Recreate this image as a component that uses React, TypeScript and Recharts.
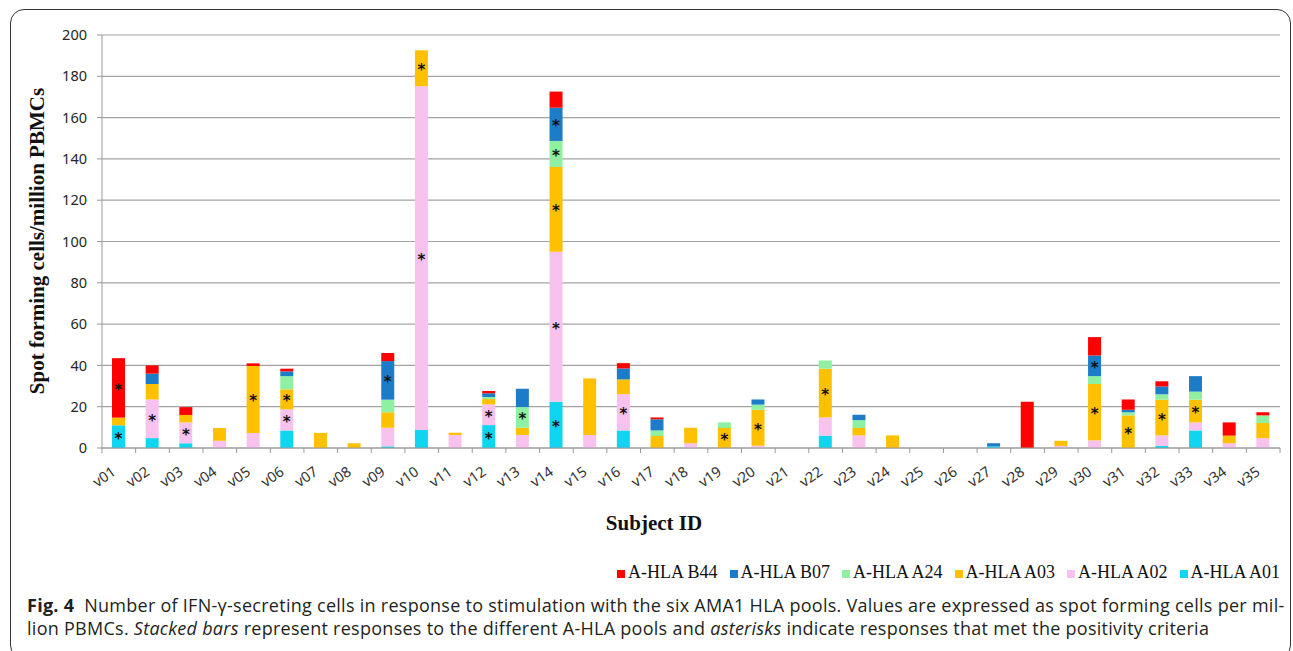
import React from "react";
import { BarChart, Bar, XAxis, YAxis, CartesianGrid, LabelList } from "recharts";

const subjects = [
  "v01","v02","v03","v04","v05","v06","v07","v08","v09","v10",
  "v11","v12","v13","v14","v15","v16","v17","v18","v19","v20",
  "v21","v22","v23","v24","v25","v26","v27","v28","v29","v30",
  "v31","v32","v33","v34","v35",
];

// stacked bottom -> top
const a01 = [11,4.8,2.3,0,0,8.5,0,0,0.8,8.7, 0,11.1,0,22.4,0,8.5,0,0,0,0, 0,6,0,0,0,0,0.8,0,0,0, 0,1,8.5,0,0];
const a02 = [0,18.7,10.1,3.5,7.3,10.2,0,0,9,166.5, 6.3,10,6.3,72.6,6.3,17.6,0,2.3,0,1.1, 0,8.8,6.1,0,0,0,0,0,1,3.7, 0,5.1,3.9,2.3,4.8];
const a03 = [3.7,7.5,3.6,6.2,32.4,9.7,7.3,2.3,7.5,17.4, 1.1,2.6,3.5,41.1,27.4,7.1,5.8,7.5,9.7,17.4, 0,23.6,3.6,6.1,0,0,0,0,2.5,27.3, 15.8,17.3,11,3.7,7.3];
const a24 = [0,0,0,0,0,6.4,0,0,6.1,0, 0,1,10,12.6,0,0,2.7,0,2.7,2.5, 0,4,3.8,0,0,0,0,0,0,3.8, 1.5,2.6,3.9,0,3.7];
const b07 = [0,5,0,0,0,2.3,0,0,18.7,0, 0,1.8,8.9,16.1,0,5.3,5.4,0,0,2.5, 0,0,2.6,0,0,0,1.5,0,0,10, 1.2,3.8,7.5,0,0];
const b44 = [28.8,4,3.8,0,1.3,1.3,0,0,3.9,0, 0,1.1,0,7.8,0,2.6,0.9,0,0,0, 0,0,0,0,0,0,0,22.4,0,8.9, 5,2.5,0,6.4,1.5];

// responses meeting positivity criteria (asterisks)
const sigA01 = ["v01","v12","v14"];
const sigA02 = ["v02","v03","v06","v10","v12","v14","v16"];
const sigA03 = ["v05","v06","v10","v14","v19","v20","v22","v30","v31","v32","v33"];
const sigA24 = ["v13","v14"];
const sigB07 = ["v09","v14","v30"];
const sigB44 = ["v01"];

const yTicks = [0,20,40,60,80,100,120,140,160,180,200];

const series = [
  { key: "a01", name: "A-HLA A01", values: a01, sig: sigA01, color: "#10D5F0" },
  { key: "a02", name: "A-HLA A02", values: a02, sig: sigA02, color: "#F7C3EE" },
  { key: "a03", name: "A-HLA A03", values: a03, sig: sigA03, color: "#FFC000" },
  { key: "a24", name: "A-HLA A24", values: a24, sig: sigA24, color: "#8FF0A2" },
  { key: "b07", name: "A-HLA B07", values: b07, sig: sigB07, color: "#1C7CC8" },
  { key: "b44", name: "A-HLA B44", values: b44, sig: sigB44, color: "#FF0000" },
];

const data = subjects.map((s, i) => {
  const row: any = { id: s };
  series.forEach(se => {
    row[se.key] = se.values[i];
    row[se.key + "_sig"] = se.sig.includes(s) ? "*" : "";
  });
  return row;
});

const W = 1293;
const PLOT_L = 102;
const PLOT_R = 1280;
const STEP = (PLOT_R - PLOT_L) / subjects.length;
const tickFont = "'Noto Sans', sans-serif";
const serif = "'Liberation Serif', 'Times New Roman', serif";

const XTick = (p: any) => {
  const { x, y, payload, index } = p;
  const tx = x - 2, ty = y + 26;
  return (
    <g>
      <line x1={x - STEP / 2} x2={x - STEP / 2} y1={y} y2={y + 5} stroke="#999" />
      {index === subjects.length - 1 && (
        <line x1={x + STEP / 2} x2={x + STEP / 2} y1={y} y2={y + 5} stroke="#999" />
      )}
      <text x={tx} y={ty} textAnchor="end" transform={`rotate(-35 ${tx} ${ty})`}
        fontFamily={tickFont} fontSize={14.5} fill="#333">{payload.value}</text>
    </g>
  );
};

const Star = (p: any) => {
  if (!p.value) return null;
  const vb = p.viewBox || p;
  return (
    <text x={vb.x + vb.width / 2} y={vb.y + vb.height / 2 + 7} textAnchor="middle"
      fontFamily="'DejaVu Sans', sans-serif" fontSize={15} fontWeight="bold" fill="#111">*</text>
  );
};

export default function App() {
  return (
    <div style={{ position: "absolute", left: 0, top: 0, width: W, height: 651, background: "#fff", overflow: "hidden" }}>
      <div style={{ position: "absolute", left: 10, top: 9, width: 1281, height: 650, border: "1.3px solid #333", borderRadius: 14, boxSizing: "border-box" }} />
      <div style={{ position: "absolute", left: 0, top: 0 }}>
        <BarChart width={W} height={540} data={data} margin={{ top: 35, right: W - PLOT_R, left: 10, bottom: 0 }} barSize={13}>
          <CartesianGrid vertical={false} stroke="#a3a3a3" strokeWidth={1.2} />
          <XAxis dataKey="id" height={92} tickLine={false} tickSize={0} tickMargin={0} interval={0}
            axisLine={{ stroke: "#999" }} tick={<XTick />} />
          <YAxis width={92} domain={[0, 200]} ticks={yTicks} interval={0} tickSize={5} tickMargin={10}
            axisLine={{ stroke: "#999" }} tickLine={{ stroke: "#999" }}
            tick={{ fontFamily: tickFont, fontSize: 14.5, fill: "#262626" }} />
          {series.map(se => (
            <Bar key={se.key} dataKey={se.key} name={se.name} stackId="s" fill={se.color} isAnimationActive={false}>
              <LabelList dataKey={se.key + "_sig"} content={<Star />} />
            </Bar>
          ))}
        </BarChart>
      </div>
      <div style={{ position: "absolute", left: 37, top: 241, transform: "translate(-50%, -50%) rotate(-90deg)", whiteSpace: "nowrap",
        fontFamily: serif, fontWeight: "bold", fontSize: 21, color: "#111" }}>
        Spot forming cells/million PBMCs
      </div>
      <div style={{ position: "absolute", left: 654, top: 523, transform: "translate(-50%, -50%)", whiteSpace: "nowrap",
        fontFamily: serif, fontWeight: "bold", fontSize: 21, color: "#111" }}>
        Subject ID
      </div>
      <div style={{ position: "absolute", right: 13, top: 562, display: "flex", gap: 12, whiteSpace: "nowrap",
        fontFamily: serif, fontSize: 18, color: "#111" }}>
        {[...series].reverse().map(se => (
          <div key={se.key} style={{ display: "flex", alignItems: "center" }}>
            <span style={{ display: "inline-block", width: 8, height: 8, background: se.color, marginRight: 3, marginTop: 3 }} />
            {se.name}
          </div>
        ))}
      </div>
      <div style={{ position: "absolute", left: 27, top: 594, lineHeight: "23px", whiteSpace: "nowrap", letterSpacing: 0.27,
        fontFamily: "'Open Sans', sans-serif", fontSize: 18, color: "#231f20" }}>
        <div><b>Fig. 4</b>&nbsp;&nbsp;Number of IFN-γ-secreting cells in response to stimulation with the six AMA1 HLA pools. Values are expressed as spot forming cells per mil-</div>
        <div>lion PBMCs. <i>Stacked bars</i> represent responses to the different A-HLA pools and <i>asterisks</i> indicate responses that met the positivity criteria</div>
      </div>
    </div>
  );
}
